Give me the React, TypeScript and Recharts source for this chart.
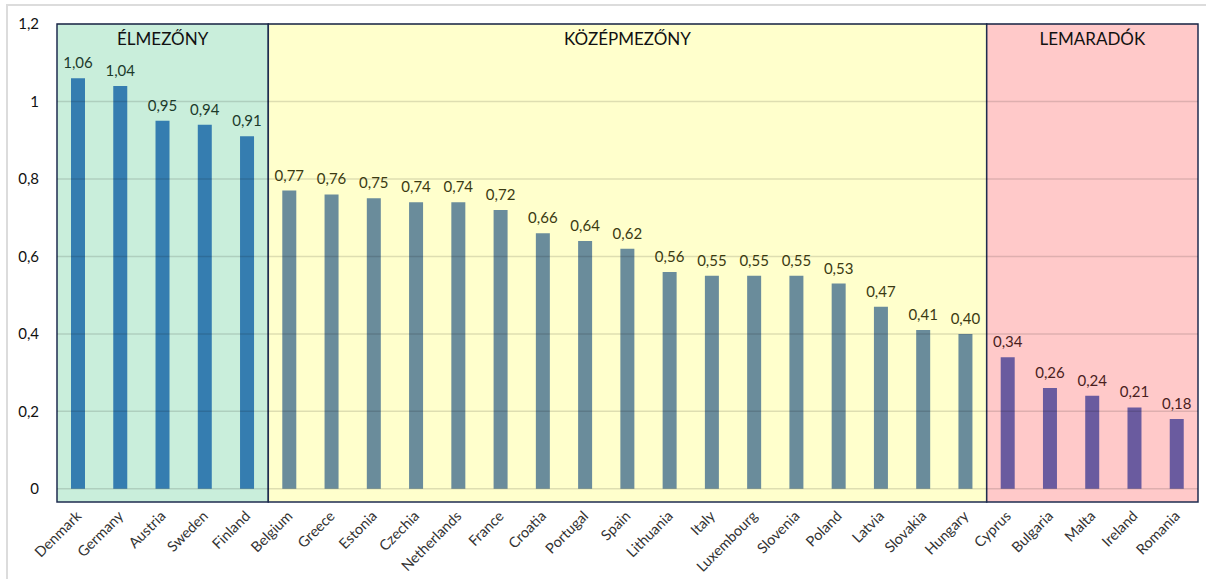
import {
  BarChart,
  Bar,
  Cell,
  XAxis,
  YAxis,
  ReferenceArea,
  ReferenceLine,
  LabelList,
} from "recharts";

// csoportok: élmezőny, középmezőny, lemaradók
const TOP_COUNTRIES = ["Denmark", "Germany", "Austria", "Sweden", "Finland"];
const TOP_VALUES = [1.06, 1.04, 0.95, 0.94, 0.91];

const MID_COUNTRIES = [
  "Belgium", "Greece", "Estonia", "Czechia", "Netherlands", "France", "Croatia", "Portugal",
  "Spain", "Lithuania", "Italy", "Luxembourg", "Slovenia", "Poland", "Latvia", "Slovakia", "Hungary",
];
const MID_VALUES = [0.77, 0.76, 0.75, 0.74, 0.74, 0.72, 0.66, 0.64, 0.62, 0.56, 0.55, 0.55, 0.55, 0.53, 0.47, 0.41, 0.4];

const LOW_COUNTRIES = ["Cyprus", "Bulgaria", "Malta", "Ireland", "Romania"];
const LOW_VALUES = [0.34, 0.26, 0.24, 0.21, 0.18];

const Y_TICKS = [0, 0.2, 0.4, 0.6, 0.8, 1, 1.2];

const GROUPS = [
  { key: "top", title: "ÉLMEZŐNY", countries: TOP_COUNTRIES, values: TOP_VALUES, box: "#c9eedb", bar: "#357db0", label: "#1c3a2b" },
  { key: "mid", title: "KÖZÉPMEZŐNY", countries: MID_COUNTRIES, values: MID_VALUES, box: "#ffffcc", bar: "#6a8c9b", label: "#3b3a12" },
  { key: "low", title: "LEMARADÓK", countries: LOW_COUNTRIES, values: LOW_VALUES, box: "#ffc9c9", bar: "#6a5b9f", label: "#4a1e1e" },
];

const data = GROUPS.flatMap((g) =>
  g.countries.map((name, i) => ({ name, value: g.values[i], group: g.key }))
);

const groupOf = (key: string) => GROUPS.find((g) => g.key === key)!;
const fmt = (v: number, digits?: number) =>
  (digits === undefined ? String(Number(v.toFixed(2))) : v.toFixed(digits)).replace(".", ",");

const FONT = "Lato, 'Open Sans', sans-serif";

const ValueLabel = (props: any) => {
  const { x, y, width, value, index } = props;
  const g = groupOf(data[index].group);
  return (
    <text x={x + width / 2} y={y - 10} textAnchor="middle" fontSize={15} fill={g.label} fontFamily={FONT}>
      {fmt(value, 2)}
    </text>
  );
};

const CountryTick = (props: any) => {
  const { x, y, payload } = props;
  return (
    <g transform={`translate(${x + 4},${y + 7})`}>
      <text textAnchor="end" transform="rotate(-45)" fontSize={14.5} fill="#333" fontFamily={FONT}>
        {payload.value}
      </text>
    </g>
  );
};

export default function App() {
  return (
    <div style={{ position: "absolute", left: 0, top: 0, width: 1206, height: 579, background: "#fff" }}>
      <div
        style={{
          position: "absolute",
          left: 6,
          top: 4,
          width: 1206,
          height: 600,
          border: "2px solid #dcdcdc",
          boxSizing: "border-box",
        }}
      />
      <BarChart
        width={1206}
        height={579}
        data={data}
        margin={{ top: 24, right: 8, bottom: 0, left: 12 }}
        barSize={14}
        style={{ position: "absolute", left: 0, top: 0 }}
      >
        <XAxis
          dataKey="name"
          interval={0}
          tickLine={false}
          axisLine={false}
          height={77}
          tick={<CountryTick />}
        />
        <YAxis
          type="number"
          domain={[-0.034, 1.2]}
          ticks={Y_TICKS}
          width={45}
          tickLine={false}
          axisLine={false}
          tickSize={0}
          tickMargin={18}
          tickFormatter={(v: number) => fmt(v)}
          tick={{ fontSize: 15, fill: "#111", fontFamily: FONT }}
        />
        {GROUPS.map((g) => (
          <ReferenceArea
            key={g.key}
            x1={g.countries[0]}
            x2={g.countries[g.countries.length - 1]}
            y1={-0.034}
            y2={1.2}
            fill={g.box}
            fillOpacity={1}
            stroke="#1f2d50"
            strokeWidth={1.5}
            label={{ value: g.title, position: "insideTop", offset: 9, fontSize: 17, fill: "#111", fontFamily: FONT }}
          />
        ))}
        {Y_TICKS.map((t) => (
          <ReferenceLine key={t} y={t} stroke="#000" strokeOpacity={0.13} strokeWidth={1.5} />
        ))}
        <Bar dataKey="value" isAnimationActive={false}>
          {data.map((d) => (
            <Cell key={d.name} fill={groupOf(d.group).bar} />
          ))}
          <LabelList dataKey="value" content={<ValueLabel />} />
        </Bar>
      </BarChart>
    </div>
  );
}
